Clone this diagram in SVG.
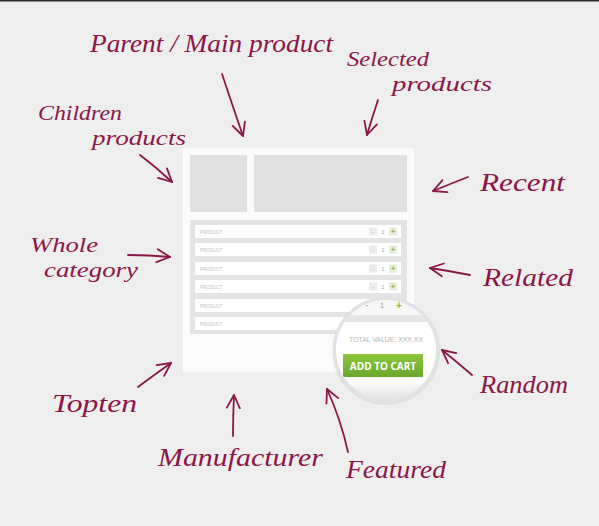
<svg xmlns="http://www.w3.org/2000/svg" width="599" height="526" viewBox="0 0 599 526">
<style>
.ink{font-family:"Liberation Serif","DejaVu Serif",serif;font-style:italic;font-size:26px;fill:#8a1748}
.ink2{font-family:"Liberation Serif","DejaVu Serif",serif;font-style:italic;font-size:22px;fill:#8a1748}
.arr{fill:none;stroke:#8a1748;stroke-width:1.8;stroke-linecap:round;marker-end:url(#head)}
.row{fill:#ffffff}
.pt{font-family:"Liberation Sans",Arial,sans-serif;font-size:4.5px;fill:#bdbdbd}
.mb{fill:#ececec}
.pb{fill:#e6ecdc}
.ct{font-family:"Liberation Sans",Arial,sans-serif;font-size:6px;fill:#aaa;text-anchor:middle}
.cp{font-family:"Liberation Sans",Arial,sans-serif;font-size:7px;fill:#8ab84a;text-anchor:middle;font-weight:bold}
</style>
<defs>
<marker id="head" viewBox="0 0 16 16" refX="14" refY="8" markerWidth="16" markerHeight="16" markerUnits="userSpaceOnUse" orient="auto">
<path d="M1,1.5 L14,8 L1,14.5" fill="none" stroke="#8a1748" stroke-width="1.8" stroke-linecap="round" stroke-linejoin="round"/>
</marker>
<clipPath id="lens"><circle cx="386" cy="350" r="51"/></clipPath>
<linearGradient id="btn" x1="0" y1="0" x2="0" y2="1">
<stop offset="0" stop-color="#8cc63e"/><stop offset="1" stop-color="#6aa82c"/>
</linearGradient>
<linearGradient id="lensbot" x1="0" y1="0" x2="0" y2="1">
<stop offset="0" stop-color="#ffffff"/><stop offset="1" stop-color="#d9d9d9"/>
</linearGradient>
</defs>
<rect width="599" height="526" fill="#eeeeee"/>
<rect width="599" height="1.5" fill="#2c2c2c"/>

<g id="page">
<rect x="183" y="148" width="231" height="224" fill="#fbfbfb"/>
<rect x="190" y="155" width="57" height="57" fill="#e1e1e1"/>
<rect x="254" y="155" width="153" height="57" fill="#e1e1e1"/>
<rect x="190" y="220" width="217" height="114" fill="#e4e4e4"/>
<g id="row1"><rect class="row" x="195" y="225" width="206" height="13"/><text class="pt" x="200" y="233.5">PRODUCT</text><rect class="mb" x="369" y="227.5" width="8" height="8"/><text class="ct" x="373" y="233.5">-</text><text class="ct" x="383" y="233.5">1</text><rect class="pb" x="389" y="227.5" width="8" height="8"/><text class="cp" x="393" y="234">+</text></g>
<g id="row2"><rect class="row" x="195" y="243" width="206" height="13"/><text class="pt" x="200" y="251.5">PRODUCT</text><rect class="mb" x="369" y="245.5" width="8" height="8"/><text class="ct" x="373" y="251.5">-</text><text class="ct" x="383" y="251.5">1</text><rect class="pb" x="389" y="245.5" width="8" height="8"/><text class="cp" x="393" y="252">+</text></g>
<g id="row3"><rect class="row" x="195" y="262" width="206" height="13"/><text class="pt" x="200" y="270.5">PRODUCT</text><rect class="mb" x="369" y="264.5" width="8" height="8"/><text class="ct" x="373" y="270.5">-</text><text class="ct" x="383" y="270.5">1</text><rect class="pb" x="389" y="264.5" width="8" height="8"/><text class="cp" x="393" y="271">+</text></g>
<g id="row4"><rect class="row" x="195" y="280" width="206" height="13"/><text class="pt" x="200" y="288.5">PRODUCT</text><rect class="mb" x="369" y="282.5" width="8" height="8"/><text class="ct" x="373" y="288.5">-</text><text class="ct" x="383" y="288.5">1</text><rect class="pb" x="389" y="282.5" width="8" height="8"/><text class="cp" x="393" y="289">+</text></g>
<g id="row5"><rect class="row" x="195" y="299" width="206" height="13"/><text class="pt" x="200" y="307.5">PRODUCT</text></g>
<g id="row6"><rect class="row" x="195" y="317" width="206" height="13"/><text class="pt" x="200" y="325.5">PRODUCT</text></g>
</g>

<g id="magnifier">
<circle cx="386" cy="351" r="54" fill="#000" opacity="0.06"/>
<g clip-path="url(#lens)">
<rect x="330" y="295" width="115" height="110" fill="#ffffff"/>
<rect x="330" y="295" width="115" height="20" fill="#f7f7f7"/>
<rect x="330" y="315" width="115" height="7" fill="#e6e6e6"/>
<text x="367" y="308" font-family="Liberation Sans,Arial,sans-serif" font-size="9" fill="#999" text-anchor="middle">-</text>
<text x="382" y="308" font-family="Liberation Sans,Arial,sans-serif" font-size="8" fill="#999" text-anchor="middle">1</text>
<text x="399" y="309" font-family="Liberation Sans,Arial,sans-serif" font-size="10" fill="#8ab84a" text-anchor="middle" font-weight="bold">+</text>
<rect x="330" y="380" width="115" height="25" fill="url(#lensbot)"/>
<text x="349" y="342" font-family="Liberation Sans,Arial,sans-serif" font-size="7.4" fill="#b5b5b5" textLength="74" lengthAdjust="spacingAndGlyphs">TOTAL VALUE: XXX,XX</text>
<rect x="343" y="354" width="80" height="23" fill="url(#btn)"/>
<text x="383" y="369.5" font-family="Open Sans,Liberation Sans,Arial,sans-serif" font-size="10" font-weight="bold" fill="#ffffff" text-anchor="middle">ADD TO CART</text>
</g>
<circle cx="386" cy="350" r="51.5" fill="none" stroke="#e2e2e2" stroke-width="3"/>
</g>

<g id="connectors">
<path class="arr" d="M222,74 Q232,104 243,136"/>
<path class="arr" d="M378,100 Q372,118 367,135"/>
<path class="arr" d="M140,155 Q156,167 172,182"/>
<path class="arr" d="M468,177 Q450,184 433,191"/>
<path class="arr" d="M128,255 Q150,255 170,257"/>
<path class="arr" d="M470,275 Q450,271 430,268"/>
<path class="arr" d="M472,375 Q457,362 442,350"/>
<path class="arr" d="M138,387 Q154,375 171,363"/>
<path class="arr" d="M233,436 Q233,416 234,395"/>
<path class="arr" d="M348,452 Q341,420 327,389"/>
</g>

<g id="label-parent"><text class="ink" x="90" y="52" textLength="243" lengthAdjust="spacingAndGlyphs">Parent / Main product</text></g>
<g id="label-selected"><text class="ink2" x="347" y="66" textLength="82" lengthAdjust="spacingAndGlyphs">Selected</text><text class="ink2" x="392" y="91" textLength="100" lengthAdjust="spacingAndGlyphs">products</text></g>
<g id="label-children"><text class="ink2" x="38" y="120" textLength="84" lengthAdjust="spacingAndGlyphs">Children</text><text class="ink2" x="92" y="145" textLength="94" lengthAdjust="spacingAndGlyphs">products</text></g>
<g id="label-recent"><text class="ink" x="480" y="191" textLength="85" lengthAdjust="spacingAndGlyphs">Recent</text></g>
<g id="label-whole"><text class="ink2" x="30" y="252" textLength="68" lengthAdjust="spacingAndGlyphs">Whole</text><text class="ink2" x="44" y="277" textLength="94" lengthAdjust="spacingAndGlyphs">category</text></g>
<g id="label-related"><text class="ink" x="483" y="286" textLength="90" lengthAdjust="spacingAndGlyphs">Related</text></g>
<g id="label-random"><text class="ink" x="480" y="393" textLength="88" lengthAdjust="spacingAndGlyphs">Random</text></g>
<g id="label-topten"><text class="ink" x="52" y="412" textLength="85" lengthAdjust="spacingAndGlyphs">Topten</text></g>
<g id="label-manufacturer"><text class="ink" x="158" y="466" textLength="165" lengthAdjust="spacingAndGlyphs">Manufacturer</text></g>
<g id="label-featured"><text class="ink" x="346" y="478" textLength="100" lengthAdjust="spacingAndGlyphs">Featured</text></g>
</svg>
